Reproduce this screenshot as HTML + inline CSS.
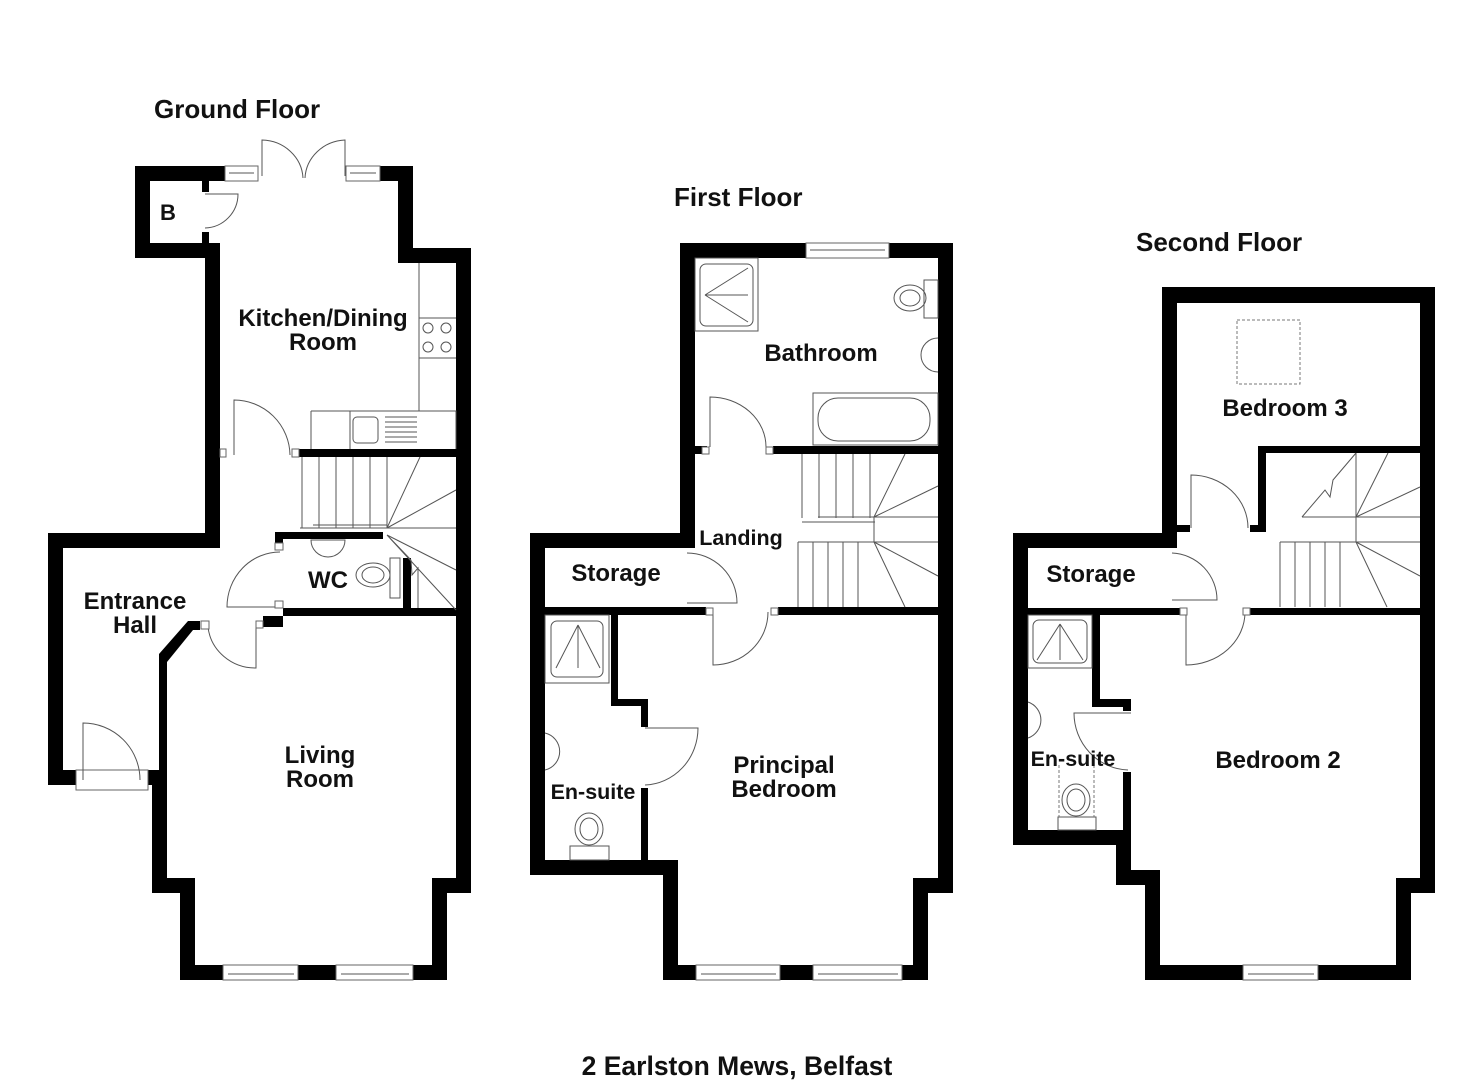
<!DOCTYPE html>
<html><head><meta charset="utf-8"><style>
html,body{margin:0;padding:0;background:#fff;}
svg{display:block;}
text{font-family:"Liberation Sans",Arial,sans-serif;font-weight:bold;fill:#111;}
.w{fill:#000;}
.l{fill:none;stroke:#555;stroke-width:1;}
.win{fill:#fff;stroke:#666;stroke-width:1;}
</style></head><body>
<svg width="1484" height="1080" viewBox="0 0 1484 1080" xmlns="http://www.w3.org/2000/svg">
<rect width="1484" height="1080" fill="#fff"/>

<!-- ============ GROUND FLOOR ============ -->
<g class="w">
<rect x="135" y="166" width="90" height="15"/>
<rect x="380" y="166" width="33" height="15"/>
<rect x="398" y="166" width="15" height="97"/>
<rect x="398" y="248" width="73" height="15"/>
<rect x="456" y="248" width="15" height="645"/>
<rect x="135" y="166" width="15" height="92"/>
<rect x="135" y="243" width="85" height="15"/>
<rect x="205" y="243" width="15" height="305"/>
<rect x="202" y="181" width="7" height="11"/>
<rect x="202" y="232" width="7" height="11"/>
<rect x="48" y="533" width="172" height="15"/>
<rect x="48" y="533" width="15" height="252"/>
<rect x="48" y="770" width="28" height="15"/>
<rect x="148" y="770" width="19" height="15"/>
<rect x="159" y="657" width="8" height="113"/>
<rect x="152" y="770" width="15" height="123"/>
<polygon points="188,621 200,621 200,630 193,630 167,662 159,662 159,654"/>
<rect x="152" y="878" width="43" height="15"/>
<rect x="180" y="878" width="15" height="102"/>
<rect x="180" y="965" width="43" height="15"/>
<rect x="298" y="965" width="38" height="15"/>
<rect x="413" y="965" width="34" height="15"/>
<rect x="432" y="878" width="15" height="102"/>
<rect x="432" y="878" width="39" height="15"/>
<rect x="299" y="449" width="157" height="8"/>
<rect x="275" y="532" width="108" height="7"/>
<rect x="275" y="532" width="8" height="11"/>
<rect x="403" y="558" width="8" height="50"/>
<rect x="283" y="608" width="173" height="8"/>
<rect x="263" y="616" width="20" height="11"/>
</g>
<rect class="win" x="225" y="166" width="33" height="15"/><line class="l" x1="229" y1="173" x2="254" y2="173"/>
<rect class="win" x="346" y="166" width="34" height="15"/><line class="l" x1="350" y1="173" x2="376" y2="173"/>
<path class="l" d="M262,176 V140 A42,40 0 0 1 303,178 M345,176 V140 A42,40 0 0 0 305,178"/>
<path class="l" d="M205,194 H238 A34,34 0 0 1 205,228"/>
<rect class="win" x="220" y="449" width="6" height="8"/>
<rect class="win" x="292" y="449" width="7" height="8"/>
<path class="l" d="M234,455 V400 A56,56 0 0 1 290,455"/>
<path class="l" d="M280,607 H227 A53,55 0 0 1 280,552"/>
<rect class="win" x="275" y="543" width="8" height="7"/>
<rect class="win" x="275" y="601" width="8" height="7"/>
<path class="l" d="M256,622 V668 A48,46 0 0 1 208,627"/>
<rect class="win" x="201" y="621" width="8" height="8"/>
<rect class="win" x="256" y="621" width="7" height="7"/>
<rect class="win" x="76" y="770" width="72" height="20"/>
<path class="l" d="M83,780 V723 A57,57 0 0 1 140,780"/>
<rect class="win" x="223" y="965" width="75" height="15"/><line class="l" x1="228" y1="974" x2="294" y2="974"/>
<rect class="win" x="336" y="965" width="77" height="15"/><line class="l" x1="341" y1="974" x2="409" y2="974"/>
<path class="l" d="M419,263 V411 M419,318 H456 M419,358 H456 M311,411 H456 V449 M311,411 V449 M350,411 V449"/>
<circle class="l" cx="428" cy="328" r="5"/><circle class="l" cx="446" cy="328" r="5"/>
<circle class="l" cx="428" cy="347" r="5"/><circle class="l" cx="446" cy="347" r="5"/>
<rect class="l" x="353" y="417" width="25" height="26" rx="4"/>
<path class="l" d="M385,417 H417 M385,422 H417 M385,427 H417 M385,432 H417 M385,437 H417 M385,442 H417"/>
<path class="l" d="M302,457 V528 M319,457 V528 M336,457 V528 M353,457 V528 M370,457 V528 M387,457 V528 M300,528 H387 M387,528 L420,457 M387,528 L456,490 M387,528 L456,528 M387,535 L456,570 M387,535 L456,610 M387,535 L411,560 M313,525 H387"/>
<path class="l" d="M411,560 L412,575 L418,568 L418,608"/>
<path class="l" d="M311,540 A17,17 0 0 0 345,540 Z"/>
<ellipse class="l" cx="373" cy="575" rx="17" ry="12"/><ellipse class="l" cx="373" cy="575" rx="11" ry="8"/>
<rect class="l" x="390" y="558" width="10" height="40"/>

<!-- ============ FIRST FLOOR ============ -->
<g class="w">
<rect x="680" y="243" width="126" height="15"/>
<rect x="889" y="243" width="64" height="15"/>
<rect x="680" y="243" width="15" height="305"/>
<rect x="938" y="243" width="15" height="650"/>
<rect x="530" y="533" width="165" height="15"/>
<rect x="530" y="533" width="15" height="342"/>
<rect x="530" y="860" width="147" height="15"/>
<rect x="663" y="860" width="15" height="120"/>
<rect x="663" y="965" width="33" height="15"/>
<rect x="780" y="965" width="33" height="15"/>
<rect x="902" y="965" width="26" height="15"/>
<rect x="913" y="878" width="15" height="102"/>
<rect x="913" y="878" width="40" height="15"/>
<rect x="773" y="446" width="165" height="8"/>
<rect x="695" y="446" width="12" height="8"/>
<rect x="545" y="607" width="161" height="8"/>
<rect x="778" y="607" width="160" height="8"/>
<rect x="611" y="615" width="7" height="91"/>
<rect x="611" y="699" width="37" height="7"/>
<rect x="641" y="699" width="7" height="28"/>
<rect x="641" y="788" width="7" height="80"/>
</g>
<rect class="win" x="806" y="243" width="83" height="15"/><line class="l" x1="810" y1="250" x2="885" y2="250"/>
<rect class="win" x="696" y="965" width="84" height="15"/><line class="l" x1="701" y1="974" x2="776" y2="974"/>
<rect class="win" x="813" y="965" width="89" height="15"/><line class="l" x1="818" y1="974" x2="898" y2="974"/>
<path class="l" d="M710,447 V397 A56,50 0 0 1 766,447"/>
<rect class="win" x="702" y="447" width="7" height="7"/><rect class="win" x="766" y="447" width="7" height="7"/>
<path class="l" d="M687,603 H737 A50,50 0 0 0 687,553"/>
<path class="l" d="M713,612 V665 A55,53 0 0 0 768,612"/>
<rect class="win" x="706" y="608" width="7" height="7"/><rect class="win" x="771" y="608" width="7" height="7"/>
<path class="l" d="M645,728 H698 A55,57 0 0 1 645,785"/>
<path class="l" d="M802,454 V518 M819,454 V518 M836,454 V518 M853,454 V518 M870,454 V518 M802,522 H875 M818,517 H874 M874,517 L905,454 M874,517 L938,486 M874,517 L938,517 M874,542 L938,576 M874,542 L905,607 M874,542 L938,542 M798,542 H874 M798,542 V607 M813,542 V607 M828,542 V607 M843,542 V607 M858,542 V607 M874,517 V542"/>
<rect class="l" x="695" y="258" width="63" height="73"/>
<rect class="l" x="700" y="264" width="53" height="62" rx="6"/>
<path class="l" d="M705,295 L748,268 M705,295 L748,322 M705,295 H748"/>
<ellipse class="l" cx="910" cy="298" rx="16" ry="13"/><ellipse class="l" cx="910" cy="298" rx="10" ry="8"/>
<rect class="l" x="924" y="280" width="14" height="38"/>
<path class="l" d="M938,338 A17,17 0 0 0 938,372"/>
<rect class="l" x="813" y="393" width="125" height="52"/>
<rect class="l" x="818" y="398" width="112" height="43" rx="20"/>
<rect class="l" x="545" y="615" width="64" height="68"/>
<rect class="l" x="551" y="621" width="52" height="56" rx="6"/>
<path class="l" d="M578,625 L556,668 M578,625 L600,668 M578,625 V668"/>
<path class="l" d="M545,733 A19,19 0 0 1 545,770"/>
<ellipse class="l" cx="589" cy="829" rx="14" ry="16"/><ellipse class="l" cx="589" cy="829" rx="9" ry="11"/>
<rect class="l" x="570" y="846" width="39" height="14"/>

<!-- ============ SECOND FLOOR ============ -->
<g class="w">
<rect x="1162" y="287" width="273" height="16"/>
<rect x="1162" y="287" width="15" height="261"/>
<rect x="1420" y="287" width="15" height="606"/>
<rect x="1013" y="533" width="164" height="15"/>
<rect x="1013" y="533" width="15" height="312"/>
<rect x="1013" y="830" width="118" height="15"/>
<rect x="1116" y="830" width="15" height="55"/>
<rect x="1116" y="870" width="44" height="15"/>
<rect x="1145" y="870" width="15" height="110"/>
<rect x="1145" y="965" width="98" height="15"/>
<rect x="1318" y="965" width="93" height="15"/>
<rect x="1396" y="878" width="15" height="102"/>
<rect x="1396" y="878" width="39" height="15"/>
<rect x="1258" y="446" width="162" height="7"/>
<rect x="1258" y="446" width="8" height="86"/>
<rect x="1177" y="525" width="13" height="7"/>
<rect x="1250" y="525" width="16" height="7"/>
<rect x="1028" y="608" width="152" height="7"/>
<rect x="1250" y="608" width="170" height="7"/>
<rect x="1092" y="615" width="8" height="92"/>
<rect x="1092" y="699" width="39" height="8"/>
<rect x="1123" y="699" width="8" height="12"/>
<rect x="1123" y="772" width="8" height="60"/>
</g>
<rect class="win" x="1243" y="965" width="75" height="15"/><line class="l" x1="1248" y1="974" x2="1314" y2="974"/>
<rect x="1237" y="320" width="63" height="64" fill="none" stroke="#777" stroke-dasharray="3,2"/>
<path class="l" d="M1191,528 V475 A57,53 0 0 1 1248,528"/>
<path class="l" d="M1172,600 H1217 A47,47 0 0 0 1172,553"/>
<path class="l" d="M1186,612 V665 A59,53 0 0 0 1245,612"/>
<rect class="win" x="1180" y="608" width="7" height="7"/><rect class="win" x="1243" y="608" width="7" height="7"/>
<path class="l" d="M1131,713 H1074 A56,57 0 0 0 1128,770"/>
<path class="l" d="M1280,542 H1356 M1280,542 V607 M1295,542 V607 M1310,542 V607 M1325,542 V607 M1340,542 V607 M1356,517 V542 M1302,517 H1356 M1356,517 L1388,453 M1356,517 L1420,487 M1356,517 L1420,517 M1356,542 L1420,576 M1356,542 L1387,607 M1356,542 L1420,542 M1356,453 V517 M1302,517 L1325,490 L1330,497 L1333,480 L1356,453"/>
<rect class="l" x="1028" y="615" width="64" height="53"/>
<rect class="l" x="1033" y="620" width="54" height="43" rx="6"/>
<path class="l" d="M1060,624 L1037,660 M1060,624 L1083,660 M1060,624 V660"/>
<path class="l" d="M1028,702 A19,19 0 0 1 1028,738"/>
<ellipse class="l" cx="1076" cy="800" rx="14" ry="16"/><ellipse class="l" cx="1076" cy="800" rx="9" ry="11"/>
<rect class="l" x="1058" y="817" width="38" height="13"/>
<path d="M1059,765 V817 M1094,765 V817" stroke="#777" stroke-dasharray="3,2" fill="none"/>

<!-- ============ LABELS ============ -->
<text x="154" y="118" font-size="26">Ground Floor</text>
<text x="674" y="206" font-size="26">First Floor</text>
<text x="1136" y="251" font-size="26">Second Floor</text>
<text x="737" y="1075" font-size="26.5" text-anchor="middle">2 Earlston Mews, Belfast</text>

<text x="168" y="220" font-size="22" text-anchor="middle">B</text>
<text x="323" y="326" font-size="24" text-anchor="middle">Kitchen/Dining</text>
<text x="323" y="350" font-size="24" text-anchor="middle">Room</text>
<text x="328" y="588" font-size="24" text-anchor="middle">WC</text>
<text x="135" y="609" font-size="24" text-anchor="middle">Entrance</text>
<text x="135" y="633" font-size="24" text-anchor="middle">Hall</text>
<text x="320" y="763" font-size="24" text-anchor="middle">Living</text>
<text x="320" y="787" font-size="24" text-anchor="middle">Room</text>

<text x="821" y="361" font-size="24" text-anchor="middle">Bathroom</text>
<text x="741" y="545" font-size="21.5" text-anchor="middle">Landing</text>
<text x="616" y="581" font-size="24" text-anchor="middle">Storage</text>
<text x="784" y="773" font-size="24" text-anchor="middle">Principal</text>
<text x="784" y="797" font-size="24" text-anchor="middle">Bedroom</text>
<text x="593" y="799" font-size="21.5" text-anchor="middle">En-suite</text>

<text x="1285" y="416" font-size="24" text-anchor="middle">Bedroom 3</text>
<text x="1091" y="582" font-size="24" text-anchor="middle">Storage</text>
<text x="1073" y="766" font-size="21.5" text-anchor="middle">En-suite</text>
<text x="1278" y="768" font-size="24" text-anchor="middle">Bedroom 2</text>
</svg>
</body></html>
